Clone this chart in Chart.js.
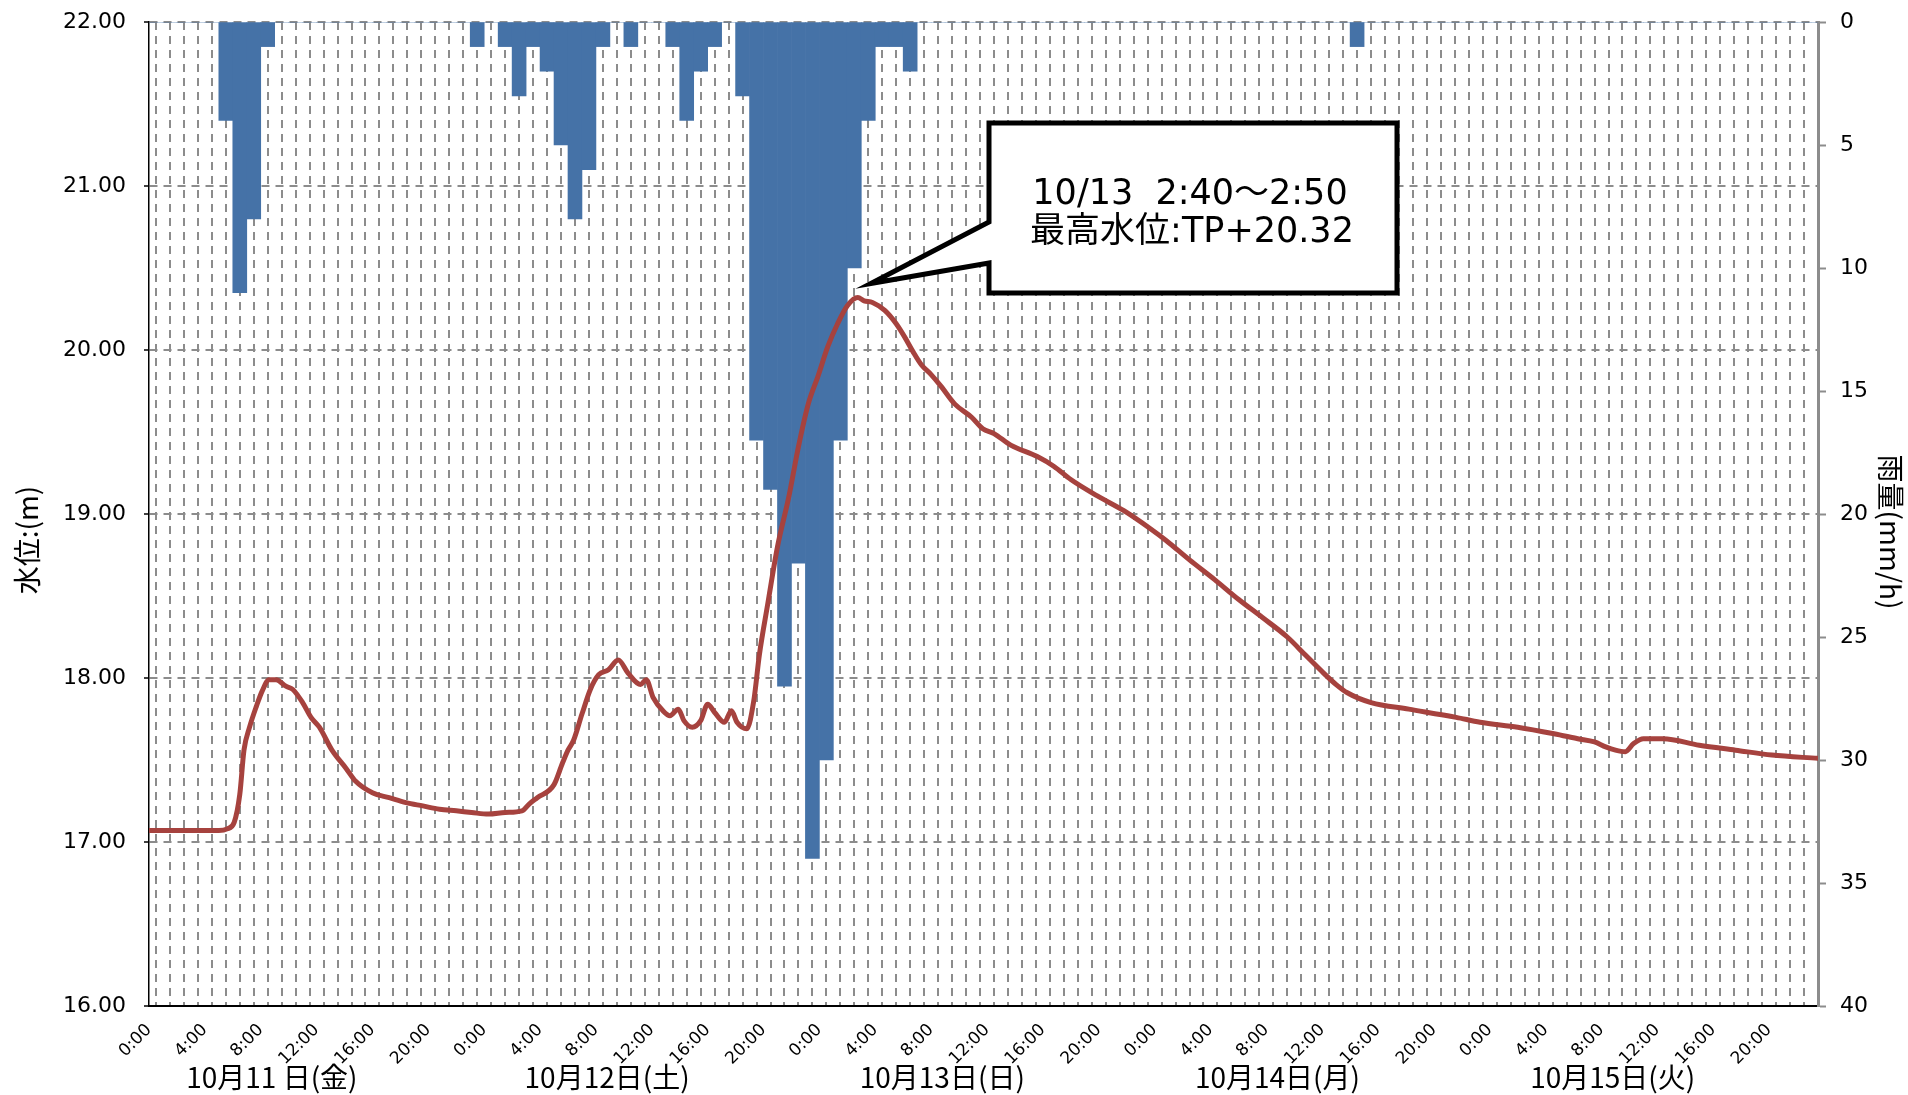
<!DOCTYPE html>
<html>
<head>
<meta charset="utf-8">
<script src="https://cdn.jsdelivr.net/npm/chart.js@4.4.1/dist/chart.umd.min.js"></script>
<style>
  html, body { margin: 0; padding: 0; background: #fff; }
  canvas { display: block; }
</style>
</head>
<body>
<canvas id="chart_suii" width="1908" height="1095"></canvas>
<script>
const dayLabels = ["10月11 日(金)", "10月12日(土)", "10月13日(日)", "10月14日(月)", "10月15日(火)"];
const timeLabels = ["0:00", "4:00", "8:00", "12:00", "16:00", "20:00"];
const calloutText = ["10/13  2:40～2:50", "最高水位:TP+20.32"];

// 時間雨量 (mm/h), 10/11 0:00 から 1時間ごと
const rainfall = [
  0, 0, 0, 0, 0, 4, 11, 8, 1, 0, 0, 0, 0, 0, 0, 0, 0, 0, 0, 0, 0, 0, 0, 1,
  0, 1, 3, 1, 2, 5, 8, 6, 1, 0, 1, 0, 0, 1, 4, 2, 1, 0, 3, 17, 19, 27, 22, 34,
  30, 17, 10, 4, 1, 1, 2, 0, 0, 0, 0, 0, 0, 0, 0, 0, 0, 0, 0, 0, 0, 0, 0, 0,
  0, 0, 0, 0, 0, 0, 0, 0, 0, 0, 0, 0, 0, 0, 1, 0, 0, 0, 0, 0, 0, 0, 0, 0,
  0, 0, 0, 0, 0, 0, 0, 0, 0, 0, 0, 0, 0, 0, 0, 0, 0, 0, 0, 0, 0, 0, 0, 0,
];

// 水位 (m), 10/11 0:00 からの経過時間
const levelHours = [
  0, 1, 2, 3, 4, 5, 5.6, 6.1, 6.5, 6.8, 7.2, 7.7, 8.1, 8.6, 9.1, 9.8,
  10.3, 11, 11.6, 12.2, 13.1, 14.1, 14.8, 16, 17.2, 18.4, 19.6, 20.8, 22, 23.1,
  24.3, 25.5, 26.7, 27.2, 27.8, 29, 29.6, 30, 30.4, 31, 31.6, 32.2, 32.9, 33.6,
  34.3, 35.2, 35.6, 36.1, 36.8, 37.3, 37.9, 38.3, 38.9, 39.5, 40, 40.5, 41.2,
  41.7, 42.1, 42.8, 43.3, 43.7, 44.3, 45, 45.8, 46.5, 47.2, 47.9, 48.6, 49.3,
  50, 50.75, 51.2, 51.8, 52.7, 53.5, 54.1, 54.7, 55.3, 56, 56.7, 57.7, 58.9,
  59.7, 60.5, 61.7, 63.6, 64.8, 66, 67.9, 69.8, 71.7, 72.8, 74.5, 76.3, 78,
  79.7, 81.5, 82.8, 84.1, 85, 85.8, 87.5, 90.2, 93.6, 95.3, 98, 100.6, 102.3,
  103.5, 104.3, 105, 105.7, 106.3, 107, 108.4, 111, 113.6, 116.2, 119.5,
];
const levels = [
  17.07, 17.07, 17.07, 17.07, 17.07, 17.07, 17.08, 17.12, 17.29, 17.56, 17.70, 17.83, 17.92, 17.99, 17.99, 17.95,
  17.93, 17.85, 17.76, 17.70, 17.56, 17.45, 17.37, 17.30, 17.27, 17.24, 17.22, 17.20, 17.19, 17.18,
  17.17, 17.18, 17.19, 17.23, 17.27, 17.35, 17.48, 17.56, 17.62, 17.78, 17.93, 18.02, 18.05, 18.11,
  18.03, 17.96, 17.99, 17.88, 17.80, 17.77, 17.81, 17.74, 17.70, 17.74, 17.84, 17.79, 17.73,
  17.80, 17.73, 17.69, 17.86, 18.14, 18.45, 18.80, 19.10, 19.41, 19.67, 19.84, 20.02, 20.16,
  20.27, 20.32, 20.30, 20.29, 20.24, 20.16, 20.08, 19.99, 19.91, 19.85, 19.78, 19.67, 19.59,
  19.52, 19.49, 19.42, 19.35, 19.29, 19.21, 19.11, 19.02, 18.91, 18.84, 18.72, 18.60, 18.48,
  18.37, 18.25, 18.14, 18.03, 17.96, 17.91, 17.85, 17.81, 17.76, 17.73, 17.70, 17.66, 17.63,
  17.61, 17.58, 17.56, 17.55, 17.60, 17.63, 17.63, 17.59, 17.56, 17.53, 17.51,
];

const tickHours = Array.from({ length: 120 }, (_, i) => i);
const CJK = '"Noto Sans CJK JP", sans-serif';
const LATIN = '"DejaVu Sans", "Noto Sans CJK JP", sans-serif';

// 軸の幅を固定して、ラベル分の余白は付けない
function fixWidth(w) {
  return (s) => {
    s.width = w;
    s.paddingTop = 0;
    s.paddingBottom = 0;
  };
}

// 軸タイトル・日付・吹き出し
const kakikomi = {
  id: "kakikomi",
  afterDraw(chart) {
    const { ctx, scales } = chart;
    const x = scales.x, y = scales.y;
    ctx.save();
    ctx.fillStyle = "#000";
    ctx.textAlign = "center";
    ctx.textBaseline = "middle";

    ctx.font = "28px " + CJK;
    ctx.save();
    ctx.translate(27, 540);
    ctx.rotate(-Math.PI / 2);
    ctx.fillText("水位:(m)", 0, 0);
    ctx.restore();
    ctx.save();
    ctx.translate(1891, 532);
    ctx.rotate(Math.PI / 2);
    ctx.fillText("雨量(mm/h)", 0, 0);
    ctx.restore();

    dayLabels.forEach((t, d) => {
      ctx.fillText(t, x.getPixelForValue(d * 24 + 8.8), 1077);
    });

    // 最高水位の吹き出し
    let p = 0;
    levels.forEach((v, i) => { if (v > levels[p]) p = i; });
    const tipX = x.getPixelForValue(levelHours[p]) + 13;
    const tipY = y.getPixelForValue(levels[p]) - 14;
    const L = 989, R = 1397, T = 123, B = 293;
    ctx.beginPath();
    ctx.moveTo(L, T);
    ctx.lineTo(R, T);
    ctx.lineTo(R, B);
    ctx.lineTo(L, B);
    ctx.lineTo(L, 263);
    ctx.lineTo(tipX, tipY);
    ctx.lineTo(L, 222);
    ctx.closePath();
    ctx.fillStyle = "#fff";
    ctx.fill();
    ctx.lineWidth = 5;
    ctx.lineJoin = "miter";
    ctx.strokeStyle = "#000";
    ctx.stroke();

    ctx.fillStyle = "#000";
    ctx.font = "35px " + LATIN;
    ctx.fillText(calloutText[0], 1190, 195);
    ctx.fillText(calloutText[1], 1192, 233);
    ctx.restore();
  },
};

Chart.defaults.color = "#000000";
Chart.defaults.font.family = LATIN;

new Chart(document.getElementById("chart_suii"), {
  type: "line",
  data: {
    datasets: [
      {
        type: "line",
        label: "水位",
        data: levelHours.map((h, i) => ({ x: h, y: levels[i] })),
        yAxisID: "y",
        borderColor: "#a6423e",
        borderWidth: 5,
        pointRadius: 0,
        cubicInterpolationMode: "monotone",
        borderJoinStyle: "round",
        borderCapStyle: "round",
      },
      {
        type: "bar",
        label: "雨量",
        data: rainfall.map((v, i) => ({ x: i + 0.5, y: v })),
        yAxisID: "y1",
        backgroundColor: "#4572a7",
        barPercentage: 1,
        categoryPercentage: 1,
        borderWidth: 0,
      },
    ],
  },
  plugins: [kakikomi],
  options: {
    responsive: false,
    animation: false,
    devicePixelRatio: 1,
    layout: {
      autoPadding: false,
      padding: { left: 0, right: 0, top: 22, bottom: 0 },
    },
    plugins: {
      legend: { display: false },
      tooltip: { enabled: false },
    },
    scales: {
      x: {
        type: "linear",
        min: 0,
        max: 119.5,
        offset: false,
        afterFit: (s) => {
          s.height = 89;
          s.paddingLeft = 0;
          s.paddingRight = 0;
        },
        afterBuildTicks: (s) => { s.ticks = tickHours.map((v) => ({ value: v })); },
        ticks: {
          autoSkip: false,
          minRotation: 45,
          maxRotation: 45,
          padding: 14,
          font: { size: 17 },
          callback: (v) => (v % 4 === 0 ? timeLabels[(v % 24) / 4] : ""),
        },
        grid: { color: "#8c8c8c", lineWidth: 2, drawTicks: false },
        border: { color: "#000", width: 2, dash: [8, 6] },
      },
      y: {
        position: "left",
        min: 16,
        max: 22,
        afterFit: fixWidth(149),
        ticks: {
          stepSize: 1,
          padding: 18,
          font: { size: 22 },
          callback: (v) => v.toFixed(2),
        },
        grid: { color: "#8c8c8c", lineWidth: 2, tickLength: 5, tickColor: "#000", tickWidth: 1.5 },
        border: { color: "#000", width: 1.5, dash: [8, 6] },
      },
      y1: {
        position: "right",
        min: 0,
        max: 40,
        reverse: true,
        afterFit: fixWidth(90),
        ticks: { stepSize: 5, padding: 14, font: { size: 22 } },
        grid: { drawOnChartArea: false, tickLength: 8, tickColor: "#8c8c8c", tickWidth: 2 },
        border: { color: "#8c8c8c", width: 3 },
      },
    },
  },
});
</script>
</body>
</html>
